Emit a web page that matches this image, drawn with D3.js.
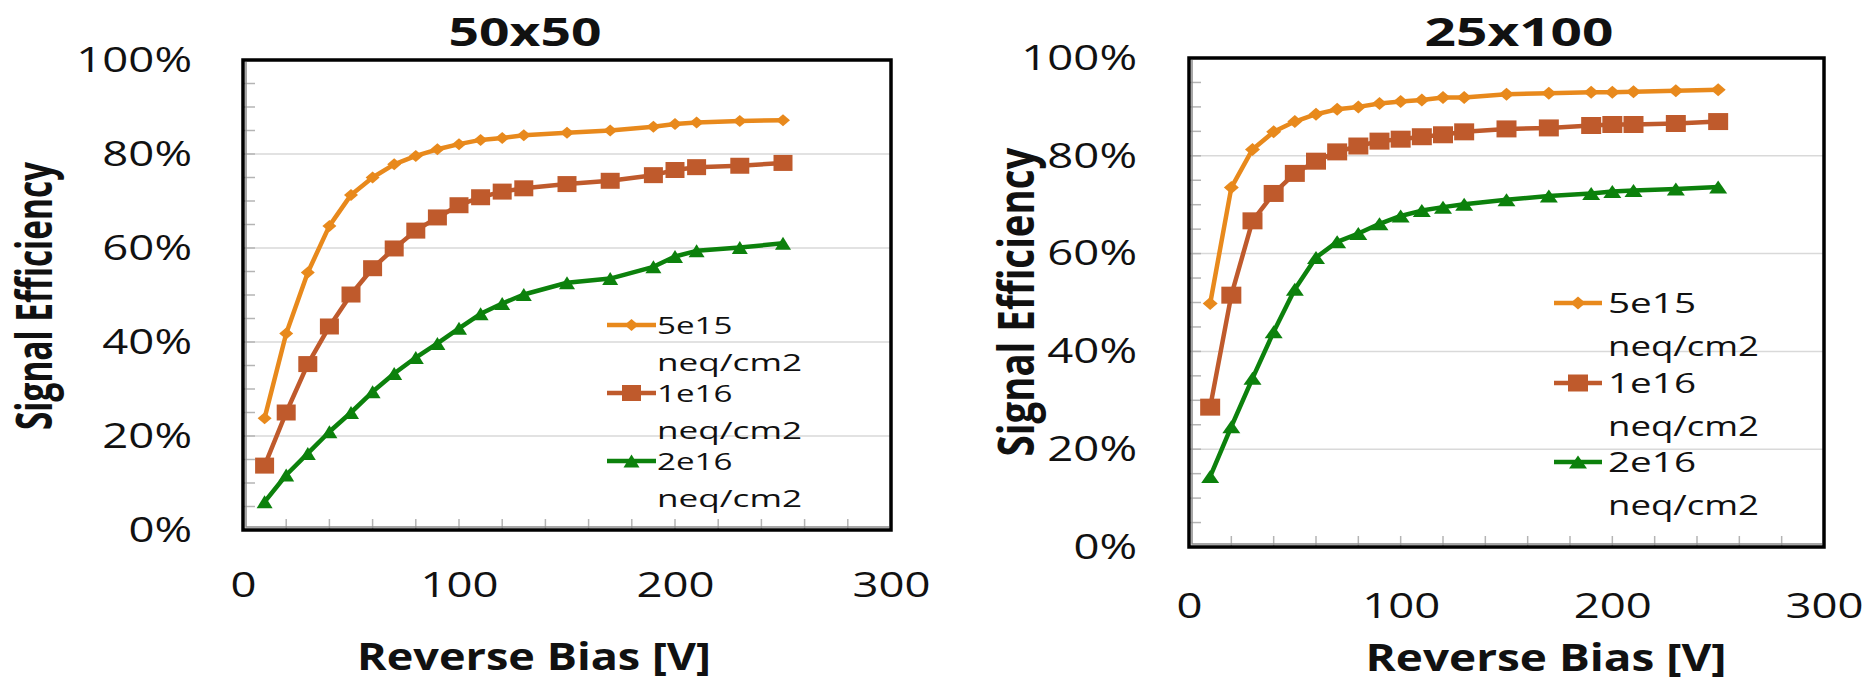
<!DOCTYPE html>
<html lang="en">
<head>
<meta charset="UTF-8">
<title>Signal Efficiency vs Reverse Bias</title>
<script src="https://d3js.org/d3.v7.min.js"></script>
<style>
  body { margin: 0; background: #fff; }
  svg text { font-family: "Open Sans", "Noto Sans", sans-serif; fill: #111; }
  .grid line { stroke: #d9d9d9; stroke-width: 1.5px; }
  .minor line { stroke: #b4b4b4; stroke-width: 1.5px; }
  .line { fill: none; stroke-width: 4.5px; stroke-linejoin: round; }
</style>
</head>
<body>
<svg id="chart" width="1868" height="682"></svg>
<script>
// reverse bias values [V], same for every series
const bias = [10, 20, 30, 40, 50, 60, 70, 80, 90, 100, 110, 120, 130, 150, 170, 190, 200, 210, 230, 250];

// 50x50 pixels
const eff50_5e15 = [0.238, 0.418, 0.548, 0.647, 0.713, 0.750, 0.778, 0.796, 0.810, 0.821, 0.830, 0.834, 0.840, 0.845, 0.850, 0.858, 0.864, 0.867, 0.870, 0.872];
const eff50_1e16 = [0.137, 0.250, 0.353, 0.433, 0.501, 0.557, 0.599, 0.637, 0.665, 0.691, 0.708, 0.720, 0.727, 0.736, 0.743, 0.755, 0.766, 0.772, 0.775, 0.781];
const eff50_2e16 = [0.060, 0.117, 0.163, 0.209, 0.250, 0.294, 0.333, 0.367, 0.397, 0.429, 0.460, 0.482, 0.501, 0.526, 0.535, 0.560, 0.582, 0.594, 0.601, 0.610];

// 25x100 pixels
const eff25_5e15 = [0.498, 0.735, 0.813, 0.849, 0.870, 0.885, 0.895, 0.900, 0.907, 0.911, 0.914, 0.919, 0.919, 0.926, 0.928, 0.930, 0.930, 0.931, 0.933, 0.935];
const eff25_1e16 = [0.286, 0.515, 0.667, 0.723, 0.764, 0.789, 0.808, 0.820, 0.830, 0.834, 0.839, 0.843, 0.849, 0.855, 0.857, 0.862, 0.864, 0.864, 0.866, 0.870];
const eff25_2e16 = [0.144, 0.246, 0.345, 0.440, 0.527, 0.592, 0.624, 0.641, 0.661, 0.677, 0.688, 0.695, 0.701, 0.710, 0.718, 0.723, 0.727, 0.729, 0.732, 0.736];

const seriesNames = ["5e15", "1e16", "2e16"];
const seriesUnit = "neq/cm2";
const seriesColors = ["#E8891C", "#BF5A2C", "#0C810C"];
const seriesMarkers = ["diamond", "square", "triangle"];

const yTicks = [0, 0.2, 0.4, 0.6, 0.8, 1.0];
const xTicks = [0, 100, 200, 300];

// layout of the two panels
const panels = [
  {
    title: "50x50", data: [eff50_5e15, eff50_1e16, eff50_2e16],
    x0: 243, x1: 891, top: 60, bottom: 530,
    titleX: 525, titleY: 46, titleW: 153,
    yTickEnd: 192, xTickBase: 597,
    yLab: { cx: 38, cy: 296, len: 268, size: 50 },
    xLab: { cx: 534, base: 670, len: 354 },
    leg: { l0: 607, l1: 656, tx: 657, rows: [325, 393, 461], sub: 44, size: 24, subW: 145 },
    mk: { diamond: [14, 12], square: [19, 16], triangle: [16, 13] }
  },
  {
    title: "25x100", data: [eff25_5e15, eff25_1e16, eff25_2e16],
    x0: 1189, x1: 1824, top: 58, bottom: 547,
    titleX: 1519, titleY: 46, titleW: 189,
    yTickEnd: 1137, xTickBase: 618,
    yLab: { cx: 1020, cy: 302, len: 309, size: 50 },
    xLab: { cx: 1546, base: 671, len: 361 },
    leg: { l0: 1554, l1: 1602, tx: 1608, rows: [303, 383, 462], sub: 50, size: 28, subW: 151 },
    mk: { diamond: [15, 13], square: [20, 17], triangle: [18, 13] }
  }
];

const svg = d3.select("#chart");

function markerPath(type, w, h) {
  const a = w / 2, b = h / 2;
  if (type === "diamond") return `M0,${-b}L${a},0L0,${b}L${-a},0Z`;
  if (type === "square") return `M${-a},${-b}H${a}V${b}H${-a}Z`;
  return `M0,${-b}L${a},${b}L${-a},${b}Z`;
}

// the original picture is a bit wider than tall, stretch text the same way
function stretch(sel, k) {
  sel.each(function () {
    const w = this.getComputedTextLength();
    d3.select(this).attr("textLength", w * k).attr("lengthAdjust", "spacingAndGlyphs");
  });
}

panels.forEach(p => {
  const x = d3.scaleLinear().domain([0, 300]).range([p.x0, p.x1]);
  const y = d3.scaleLinear().domain([0, 1]).range([p.bottom, p.top]);
  const g = svg.append("g");

  // gridlines
  g.append("g").attr("class", "grid")
    .selectAll("line").data(yTicks.slice(1, -1)).join("line")
    .attr("x1", p.x0).attr("x2", p.x1)
    .attr("y1", d => y(d)).attr("y2", d => y(d));

  // inner minor ticks
  const minor = g.append("g").attr("class", "minor");
  minor.selectAll(".my").data(d3.range(1, 20).map(i => i / 20)).join("line")
    .attr("class", "my")
    .attr("x1", p.x0).attr("x2", p.x0 + 12)
    .attr("y1", d => y(d)).attr("y2", d => y(d));
  minor.selectAll(".mx").data(d3.range(20, 300, 20)).join("line")
    .attr("class", "mx")
    .attr("x1", d => x(d)).attr("x2", d => x(d))
    .attr("y1", p.bottom).attr("y2", p.bottom - 11);

  // frame
  g.append("rect")
    .attr("x", p.x0).attr("y", p.top)
    .attr("width", p.x1 - p.x0).attr("height", p.bottom - p.top)
    .attr("fill", "none").attr("stroke", "#000").attr("stroke-width", 3.5);
  g.append("path")
    .attr("d", `M${p.x0 + 3},${p.top + 2}V${p.bottom - 3}H${p.x1 - 2}`)
    .attr("fill", "none").attr("stroke", "#8a8a8a").attr("stroke-width", 1.5);

  // y axis labels
  const yAxis = g.append("g")
    .attr("transform", `translate(${p.x0},0)`)
    .call(d3.axisLeft(y).tickValues(yTicks).tickFormat(d3.format(".0%"))
      .tickSize(0).tickPadding(p.x0 - p.yTickEnd));
  yAxis.select(".domain").remove();
  yAxis.selectAll("text")
    .attr("font-size", 35).attr("fill", "#1a1a1a")
    .attr("font-family", "Open Sans");
  stretch(yAxis.selectAll("text"), 1.3);

  // x axis labels
  const xAxis = g.append("g")
    .attr("transform", `translate(0,${p.bottom})`)
    .call(d3.axisBottom(x).tickValues(xTicks).tickSize(0));
  xAxis.select(".domain").remove();
  xAxis.selectAll("text")
    .attr("y", p.xTickBase - p.bottom).attr("dy", null)
    .attr("font-size", 35).attr("fill", "#1a1a1a")
    .attr("font-family", "Open Sans");
  stretch(xAxis.selectAll("text"), 1.3);

  // series
  const line = d3.line().x((d, i) => x(bias[i])).y(d => y(d));
  p.data.forEach((vals, s) => {
    const sg = g.append("g");
    sg.append("path").attr("class", "line")
      .attr("stroke", seriesColors[s]).attr("d", line(vals));
    const [mw, mh] = p.mk[seriesMarkers[s]];
    sg.selectAll("path.mark").data(vals).join("path")
      .attr("class", "mark")
      .attr("transform", (d, i) => `translate(${x(bias[i])},${y(d)})`)
      .attr("d", markerPath(seriesMarkers[s], mw, mh))
      .attr("fill", seriesColors[s]);
  });

  // legend
  const lg = g.append("g");
  seriesNames.forEach((name, s) => {
    const ry = p.leg.rows[s];
    lg.append("line")
      .attr("x1", p.leg.l0).attr("x2", p.leg.l1)
      .attr("y1", ry).attr("y2", ry)
      .attr("stroke", seriesColors[s]).attr("stroke-width", 4.5);
    const [mw, mh] = p.mk[seriesMarkers[s]];
    lg.append("path")
      .attr("transform", `translate(${(p.leg.l0 + p.leg.l1) / 2},${ry})`)
      .attr("d", markerPath(seriesMarkers[s], mw, mh))
      .attr("fill", seriesColors[s]);
    const t1 = lg.append("text")
      .attr("x", p.leg.tx).attr("y", ry).attr("dy", "0.36em")
      .attr("font-size", p.leg.size).text(name);
    stretch(t1, 1.38);
    lg.append("text")
      .attr("x", p.leg.tx).attr("y", ry + p.leg.sub).attr("dy", "0.1em")
      .attr("font-size", p.leg.size)
      .attr("textLength", p.leg.subW).attr("lengthAdjust", "spacingAndGlyphs")
      .text(seriesUnit);
  });

  // title
  g.append("text")
    .attr("x", p.titleX).attr("y", p.titleY)
    .attr("text-anchor", "middle")
    .attr("font-size", 40).attr("font-weight", "bold")
    .attr("textLength", p.titleW).attr("lengthAdjust", "spacingAndGlyphs")
    .text(p.title);

  // axis titles
  g.append("text")
    .attr("transform", `translate(${p.yLab.cx + p.yLab.size * 0.28},${p.yLab.cy}) rotate(-90)`)
    .attr("text-anchor", "middle")
    .attr("font-size", p.yLab.size).attr("font-weight", "bold")
    .attr("textLength", p.yLab.len).attr("lengthAdjust", "spacingAndGlyphs")
    .text("Signal Efficiency");
  g.append("text")
    .attr("x", p.xLab.cx).attr("y", p.xLab.base)
    .attr("text-anchor", "middle")
    .attr("font-size", 37).attr("font-weight", "bold")
    .attr("textLength", p.xLab.len).attr("lengthAdjust", "spacingAndGlyphs")
    .text("Reverse Bias [V]");
});
</script>
</body>
</html>
